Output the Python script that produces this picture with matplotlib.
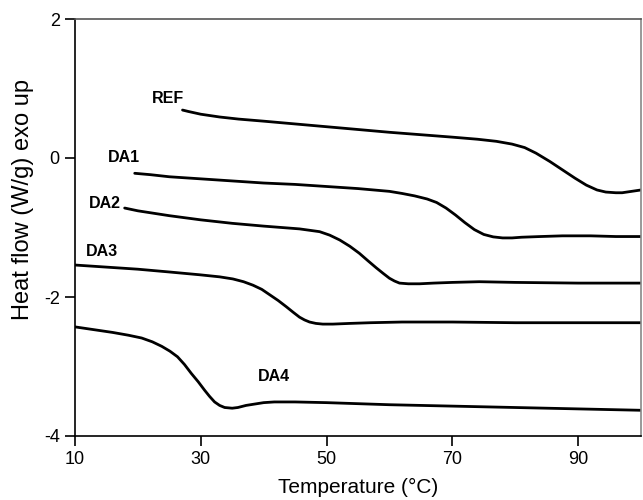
import matplotlib
matplotlib.use("Agg")
import matplotlib.pyplot as plt

plt.rcParams['font.family'] = ['Liberation Sans', 'DejaVu Sans']
plt.rcParams['axes.unicode_minus'] = False

ref_x = [27.1, 28, 30, 33, 36, 40, 45, 50, 55, 60, 65, 70, 74, 77, 79.5, 81.5, 83.3, 85.5, 87.5, 89.5, 91.3, 93, 94.4, 96, 97, 98.5, 100]
ref_y = [0.69, 0.67, 0.63, 0.59, 0.56, 0.53, 0.49, 0.45, 0.41, 0.37, 0.335, 0.30, 0.27, 0.24, 0.20, 0.15, 0.07, -0.05, -0.17, -0.29, -0.39, -0.46, -0.49, -0.50, -0.50, -0.48, -0.46]

da1_x = [19.5, 22, 25, 30, 35, 40, 45, 50, 55, 60, 62, 64, 66, 67.5, 69, 70.5, 72, 73.5, 75, 76.5, 78, 79.5, 81, 84, 87.5, 92, 96, 100]
da1_y = [-0.22, -0.24, -0.27, -0.30, -0.33, -0.36, -0.38, -0.41, -0.44, -0.48, -0.51, -0.545, -0.59, -0.64, -0.72, -0.82, -0.93, -1.03, -1.10, -1.135, -1.15, -1.15, -1.14, -1.13, -1.12, -1.12, -1.13, -1.13]

da2_x = [17.9, 20, 25, 30, 35, 40, 45.7, 48.9, 50.5, 52.1, 53.7, 55.2, 56.6, 57.9, 59, 60, 60.8, 61.6, 63, 64.8, 67, 70, 74.3, 80, 90, 100]
da2_y = [-0.72, -0.76, -0.83, -0.89, -0.94, -0.98, -1.02, -1.06, -1.11, -1.18, -1.27, -1.37, -1.48, -1.58, -1.66, -1.73, -1.77, -1.80, -1.81, -1.81, -1.80, -1.79, -1.78, -1.79, -1.80, -1.80]

da3_x = [10, 15, 20, 25, 29.8, 33, 35.1, 36.8, 38.3, 39.7, 41, 42.3, 43.6, 44.7, 45.7, 46.5, 47.3, 48.3, 49.4, 51, 53.7, 57, 62, 70, 80, 90, 100]
da3_y = [-1.54, -1.57, -1.60, -1.64, -1.68, -1.71, -1.74, -1.78, -1.83, -1.89, -1.97, -2.05, -2.14, -2.22, -2.29, -2.33, -2.36, -2.38, -2.39, -2.39, -2.38, -2.37, -2.36, -2.36, -2.37, -2.37, -2.37]

da4_x = [10, 13, 16, 18.5, 20.6, 22.3, 23.8, 25.1, 26.3, 27.4, 28.5, 29.6, 30.6, 31.4, 32.2, 33, 33.8, 35, 35.9, 37.2, 38.6, 40, 41.7, 45, 50, 60, 70, 80, 90, 100]
da4_y = [-2.43, -2.47, -2.51, -2.55, -2.59, -2.645, -2.71, -2.78, -2.86, -2.97, -3.10, -3.22, -3.34, -3.43, -3.51, -3.56, -3.59, -3.60, -3.59, -3.56, -3.54, -3.52, -3.51, -3.51, -3.52, -3.55, -3.57, -3.59, -3.61, -3.63]

labels = ["REF", "DA1", "DA2", "DA3", "DA4"]
label_pos = [(24.8, 0.86), (17.8, 0.01), (14.8, -0.65), (14.3, -1.35), (41.7, -3.14)]

xticks = [10, 30, 50, 70, 90]
yticks = [-4, -2, 0, 2]

fig = plt.figure(figsize=(6.43, 5.0), dpi=100)
ax = fig.add_axes([0.1166, 0.128, 0.8803, 0.834])

for xs, ys in [(ref_x, ref_y), (da1_x, da1_y), (da2_x, da2_y), (da3_x, da3_y), (da4_x, da4_y)]:
    ax.plot(xs, ys, color='black', lw=2.0, solid_capstyle='round', solid_joinstyle='round')

for lab, (lx, ly) in zip(labels, label_pos):
    ax.text(lx, ly, lab, fontsize=11.5, fontweight='bold', ha='center', va='center')

ax.set_xlim(10, 100)
ax.set_ylim(-4, 2)
ax.set_xticks(xticks)
ax.set_yticks(yticks)
ax.tick_params(direction='out', length=7, width=1.2, labelsize=13, pad=4)
for s in ax.spines.values():
    s.set_linewidth(1.2)
ax.spines['top'].set_color('#555555')
ax.spines['right'].set_color('#888888')
ax.set_xlabel("Temperature (°C)", fontsize=15, labelpad=7)
ax.set_ylabel("Heat flow (W/g) exo up", fontsize=17)
ax.yaxis.set_label_coords(-0.072, 0.566)

fig.savefig("out.png", dpi=100)
